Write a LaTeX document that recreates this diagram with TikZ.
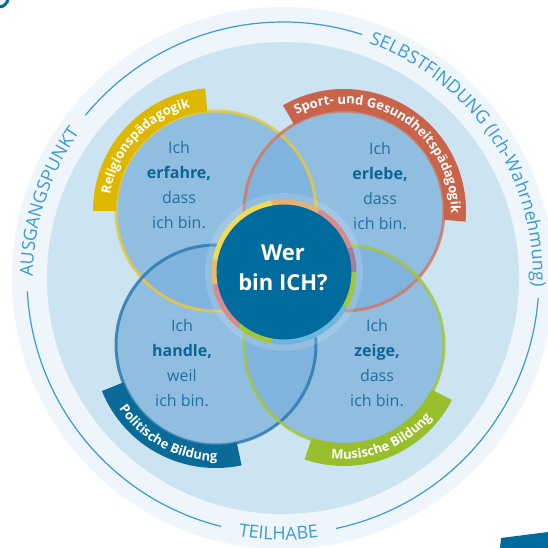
\documentclass[tikz,border=0pt]{standalone}
\usepackage{fontspec}
\setmainfont{Open Sans}
\usetikzlibrary{decorations.text}
\definecolor{outerfill}{HTML}{EEF5FB}
\definecolor{innerfill}{HTML}{CCE3F1}
\definecolor{ringline}{HTML}{3D9AD6}
\definecolor{petalfill}{HTML}{7AB0DC}
\definecolor{petaltext}{HTML}{236F9F}
\definecolor{petalbold}{HTML}{0E6494}
\definecolor{coreblue}{HTML}{006C9E}
\definecolor{relband}{HTML}{DEB800}
\definecolor{sportband}{HTML}{C9634A}
\definecolor{polband}{HTML}{0A6B99}
\definecolor{musband}{HTML}{98BF2B}
\definecolor{relrim}{HTML}{E6C842}
\definecolor{sportrim}{HTML}{CF7966}
\definecolor{polrim}{HTML}{2C7BB0}
\definecolor{musrim}{HTML}{A3C63D}
\definecolor{coreyellow}{HTML}{F0DA5A}
\definecolor{corepink}{HTML}{D98A8C}
\definecolor{corepurple}{HTML}{A97BA0}
\definecolor{coresky}{HTML}{6DB7DE}

\begin{document}
\begin{tikzpicture}[x=1pt,y=1pt,
    petal/.style={fill=petalfill,fill opacity=.72},
    rim/.style={line width=3pt,draw opacity=.85},
    ring/.style={draw=ringline,line width=1.2pt},
    leaf/.style={align=center,text=petaltext,font=\fontsize{16}{25}\selectfont},
    ringtext/.style={decorate,decoration={text along path,text align=center,
        text color=ringline,text={|\fontsize{18}{20}\selectfont|#1}}},
    bandtext/.style={decorate,decoration={text along path,text align=center,
        text color=white,text={|\bfseries\fontsize{13}{15}\selectfont|#1}}}]
    \useasboundingbox (-283,-270) rectangle (265,278);
    % background rings
    \fill[outerfill] (0,0) circle[radius=271];
    \fill[innerfill] (0,0) circle[radius=236];
    \draw[ring] (183:256) arc[start angle=183,end angle=256,radius=256];
    \draw[ring] (72:256) arc[start angle=72,end angle=140.5,radius=256];
    \draw[ring] (-4.5:256) arc[start angle=-4.5,end angle=-78,radius=256];
    \path[ringtext=AUSGANGSPUNKT] (182:250) arc[start angle=182,end angle=142,radius=250];
    \path[ringtext={SELBSTFINDUNG (Ich-Wahrnehmung)}] (72:250) arc[start angle=72,end angle=-4,radius=250];
    \path[ringtext=TEILHABE] (255:262) arc[start angle=255,end angle=283,radius=262];
    % corner marks
    \draw[coreblue,line width=3pt] (-284,280) circle[radius=9];
    \fill[coreblue] (217,-270) -- (218,-260) -- (265,-254) -- (265,-270) -- cycle;
    % petals
    \fill[petal] (-67,67) circle[radius=100];
    \fill[petal] (61,67) circle[radius=100];
    \fill[petal] (-67,-67) circle[radius=100];
    \fill[petal] (61,-67) circle[radius=100];
    \draw[rim,relrim] (-67,67) circle[radius=100];
    \draw[rim,sportrim] (61,67) circle[radius=100];
    \draw[rim,polrim] (-67,-67) circle[radius=100];
    \draw[rim,musrim] (61,-67) circle[radius=100];
    % bands
    \fill[relband,shift={(-67,67)}] (95:123) arc[start angle=95,end angle=180,radius=123]
        -- (180:100) arc[start angle=180,end angle=95,radius=100] -- cycle;
    \fill[sportband,shift={(61,67)}] (120:122) arc[start angle=120,end angle=-5,radius=122]
        -- (-5:100) arc[start angle=-5,end angle=120,radius=100] -- cycle;
    \fill[polband,shift={(-67,-67)}] (202:123) arc[start angle=202,end angle=282,radius=123]
        -- (282:100) arc[start angle=282,end angle=202,radius=100] -- cycle;
    \fill[musband,shift={(61,-67)}] (251:121) arc[start angle=251,end angle=333,radius=121]
        -- (333:98) arc[start angle=333,end angle=251,radius=98] -- cycle;
    \path[bandtext=Religionspädagogik,shift={(-67,67)}] (180:107) arc[start angle=180,end angle=95,radius=107];
    \path[bandtext={Sport- und Gesundheitspädagogik},shift={(61,67)}] (120:107) arc[start angle=120,end angle=-5,radius=107];
    \path[bandtext={Politische Bildung},shift={(-67,-67)}] (202:116) arc[start angle=202,end angle=282,radius=116];
    \path[bandtext={Musische Bildung},shift={(61,-67)}] (251:114) arc[start angle=251,end angle=333,radius=114];
    % core
    \fill[white,opacity=.15] (1,6) circle[radius=79];
    \fill[coreblue] (1,6) circle[radius=71];
    \foreach \a/\b/\c in {100/170/coreyellow,60/100/coreyellow!50!corepink,20/60/corepink,
        0/20/corepurple,-30/0/musrim,-100/-30/coresky,-130/-100/musrim,
        -170/-130/corepink,170/190/coreyellow!60!corepink}
        \draw[\c,line width=5pt] (1,6) ++(\a:70) arc[start angle=\a,end angle=\b,radius=70];
    \node[text=white,font=\bfseries\fontsize{22}{30}\selectfont,align=center] (core) at (0,10) {Wer\\bin ICH?};
    % petal texts
    \node[leaf] (erfahre) at (-104,93) {Ich\\\textbf{\color{petalbold}erfahre,}\\dass\\ich bin.};
    \node[leaf] (erlebe) at (97,92) {Ich\\\textbf{\color{petalbold}erlebe,}\\dass\\ich bin.};
    \node[leaf] (handle) at (-101,-85) {Ich\\\textbf{\color{petalbold}handle,}\\weil\\ich bin.};
    \node[leaf] (zeige) at (94,-85) {Ich\\\textbf{\color{petalbold}zeige,}\\dass\\ich bin.};
\end{tikzpicture}
\end{document}
